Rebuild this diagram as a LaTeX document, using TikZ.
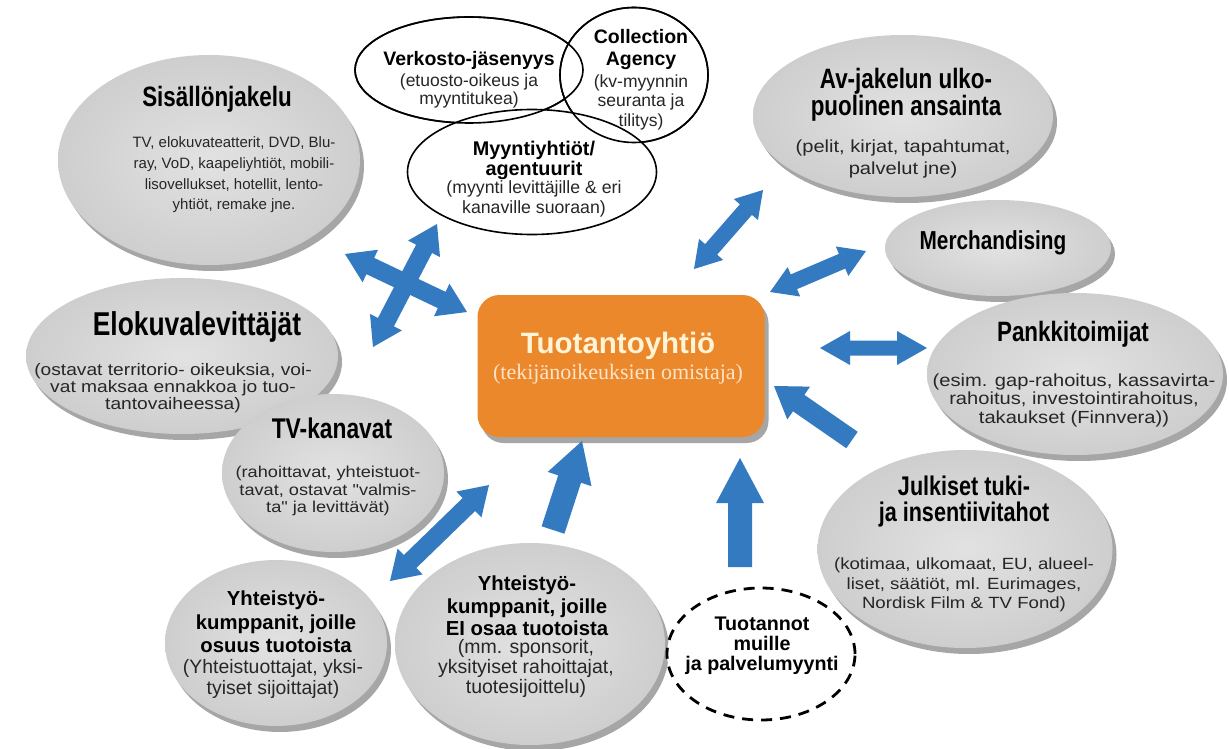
\documentclass[tikz,border=0pt]{standalone}
\usepackage{fontspec}
\setmainfont{Liberation Sans}
\newfontfamily\condfont[FakeStretch=0.8]{Liberation Sans}
\newfontfamily\widefont[FakeStretch=1.15]{Liberation Sans}
\newfontfamily\subserif{Liberation Serif}
\usetikzlibrary{shapes.geometric,shadows,calc}
\definecolor{boxorange}{RGB}{236,136,44}
\definecolor{boxtitle}{RGB}{255,244,214}
\definecolor{boxsub}{RGB}{252,228,200}
\definecolor{arrowblue}{RGB}{52,122,192}
\definecolor{ellin}{RGB}{226,226,226}
\definecolor{ellout}{RGB}{206,206,206}
\newcommand\fatdbl[5]{\fill[arrowblue] (#1)
 -- ($(#1)!#5!(#2)!#4!90:(#2)$) -- ($(#1)!#5!(#2)!#3!90:(#2)$)
 -- ($(#2)!#5!(#1)!#3!-90:(#1)$) -- ($(#2)!#5!(#1)!#4!-90:(#1)$)
 -- (#2)
 -- ($(#2)!#5!(#1)!#4!90:(#1)$) -- ($(#2)!#5!(#1)!#3!90:(#1)$)
 -- ($(#1)!#5!(#2)!#3!-90:(#2)$) -- ($(#1)!#5!(#2)!#4!-90:(#2)$) -- cycle;}
\newcommand\fatsgl[5]{\fill[arrowblue] ($(#1)!#3!90:(#2)$)
 -- ($(#2)!#5!(#1)!#3!-90:(#1)$) -- ($(#2)!#5!(#1)!#4!-90:(#1)$)
 -- (#2)
 -- ($(#2)!#5!(#1)!#4!90:(#1)$) -- ($(#2)!#5!(#1)!#3!90:(#1)$)
 -- ($(#1)!#3!-90:(#2)$) -- cycle;}
\begin{document}
\begin{tikzpicture}[x=1pt,y=-1pt,
  greyell/.style={ellipse, inner sep=0pt, inner color=ellin, outer color=ellout,
    drop shadow={shadow xshift=4pt, shadow yshift=-6pt, opacity=.35, fill=black}},
  whiteell/.style={ellipse, inner sep=0pt, fill=white, draw=black, line width=1.6pt},
  ringell/.style={ellipse, inner sep=0pt, draw=black, line width=1.6pt},
  dashell/.style={ellipse, inner sep=0pt, fill=white, draw=black, line width=2.8pt, dash pattern=on 11pt off 8pt},
  ttl/.style={align=center, inner sep=0pt, text=black},
  bod/.style={align=center, inner sep=0pt, text=black!85}]
\fill[white] (0,0) rectangle (1229,749);
\useasboundingbox (0,0) rectangle (1229,749);

% grey ellipses
\node[greyell, minimum width=302pt, minimum height=210pt] (sis) at (209,160) {};
\node[greyell, minimum width=312pt, minimum height=156pt] (elo) at (182,356) {};
\node[greyell, minimum width=222pt, minimum height=158pt] (tvk) at (333,473) {};
\node[greyell, minimum width=222pt, minimum height=166pt] (yh1) at (276,643) {};
\node[greyell, minimum width=270pt, minimum height=202pt] (yh2) at (530,644) {};
\node[greyell, minimum width=300pt, minimum height=162pt] (avj) at (903,116) {};
\node[greyell, minimum width=226pt, minimum height=96pt] (mer) at (998,248) {};
\node[greyell, minimum width=296pt, minimum height=162pt] (pan) at (1075,374) {};
\node[greyell, minimum width=295pt, minimum height=198pt] (jul) at (965,549) {};
\node[dashell, minimum width=188pt, minimum height=132pt] (tuo) at (761,654) {};

% white ellipses
\node[whiteell, minimum width=228pt, minimum height=106pt] (ver) at (469,70) {};
\node[whiteell, minimum width=148pt, minimum height=135pt] (col) at (634,75) {};
\node[whiteell, minimum width=249pt, minimum height=125pt] (myy) at (532,172) {};
\node[ringell, minimum width=228pt, minimum height=106pt] (verR) at (469,70) {};
\node[ringell, minimum width=148pt, minimum height=135pt] (colR) at (634,75) {};

% centre box
\node[rounded corners=22pt, fill=boxorange, minimum width=287pt, minimum height=142pt, inner sep=0pt,
  drop shadow={shadow xshift=4pt, shadow yshift=-6pt, opacity=.35, fill=black}] (prod) at (621,366) {};
\node[ttl, text=boxtitle, font=\bfseries\fontsize{29.5}{32}\selectfont] (prodT) at (618,346) {Tuotantoyhtiö};
\node[ttl, text=boxsub, font=\subserif\fontsize{22}{24}\selectfont] (prodS) at (618,374) {(tekijänoikeuksien omistaja)};

% texts
\node[ttl, font=\condfont\bfseries\fontsize{28}{30}\selectfont] (sisT) at (217,99) {Sisällönjakelu};
\node[bod, font=\fontsize{15}{20.7}\selectfont] (sisB) at (234,175) {TV, elokuvateatterit, DVD, Blu-\\ray, VoD, kaapeliyhtiöt, mobili-\\lisovellukset, hotellit, lento-\\yhtiöt, remake jne.};

\node[ttl, font=\condfont\bfseries\fontsize{33}{35}\selectfont] (eloT) at (197,327) {Elokuvalevittäjät};
\node[bod, font=\widefont\fontsize{16.7}{17}\selectfont] (eloB) at (173,388) {(ostavat territorio- oikeuksia, voi-\\vat maksaa ennakkoa jo tuo-\\tantovaiheessa)};

\node[ttl, font=\condfont\bfseries\fontsize{28.5}{30}\selectfont] (tvkT) at (332,428) {TV-kanavat};
\node[bod, font=\widefont\fontsize{15.8}{17.5}\selectfont] (tvkB) at (328,491) {(rahoittavat, yhteistuot-\\tavat, ostavat "valmis-\\ta" ja levittävät)};

\node[ttl, font=\bfseries\fontsize{20.3}{23.5}\selectfont] (yh1T) at (276,622) {Yhteistyö-\\kumppanit, joille\\osuus tuotoista};
\node[bod, font=\fontsize{19.4}{21}\selectfont] (yh1B) at (273,679) {(Yhteistuottajat, yksi-\\tyiset sijoittajat)};

\node[ttl, font=\bfseries\fontsize{20.3}{22.5}\selectfont] (yh2T) at (527,606) {Yhteistyö-\\kumppanit, joille\\EI osaa tuotoista};
\node[bod, font=\fontsize{19.5}{20}\selectfont] (yh2B) at (526,668) {(mm. sponsorit,\\yksityiset rahoittajat,\\tuotesijoittelu)};

\node[ttl, font=\bfseries\fontsize{19.7}{20}\selectfont] (tuoT) at (762,646) {Tuotannot\\muille\\ja palvelumyynti};

\node[ttl, font=\condfont\bfseries\fontsize{28}{24.5}\selectfont] (avjT) at (906,95) {Av-jakelun ulko-\\puolinen ansainta};
\node[bod, font=\widefont\fontsize{17.5}{22.5}\selectfont] (avjB) at (903,159) {(pelit, kirjat, tapahtumat,\\palvelut jne)};

\node[ttl, font=\condfont\bfseries\fontsize{26}{28}\selectfont] (merT) at (993,243) {Merchandising};

\node[ttl, font=\condfont\bfseries\fontsize{28}{30}\selectfont] (panT) at (1073,334) {Pankkitoimijat};
\node[bod, font=\widefont\fontsize{17.5}{18.5}\selectfont] (panB) at (1074,400) {(esim. gap-rahoitus, kassavirta-\\rahoitus, investointirahoitus,\\takaukset (Finnvera))};

\node[ttl, font=\condfont\bfseries\fontsize{27}{26}\selectfont] (julT) at (964,502) {Julkiset tuki-\\ja insentiivitahot};
\node[bod, font=\widefont\fontsize{16.2}{19.7}\selectfont] (julB) at (964,585) {(kotimaa, ulkomaat, EU, alueel-\\liset, säätiöt, ml. Eurimages,\\Nordisk Film \& TV Fond)};

\node[ttl, font=\bfseries\fontsize{19.5}{21}\selectfont] (verT) at (469,60) {Verkosto-jäsenyys};
\node[bod, font=\fontsize{17.5}{18.5}\selectfont] (verB) at (469,91) {(etuosto-oikeus ja\\myyntitukea)};

\node[ttl, font=\bfseries\fontsize{19.5}{22}\selectfont] (colT) at (641,50) {Collection\\Agency};
\node[bod, font=\fontsize{17.5}{19.5}\selectfont] (colB) at (641,102) {(kv-myynnin\\seuranta ja\\tilitys)};

\node[ttl, font=\bfseries\fontsize{19.8}{20}\selectfont] (myyT) at (534,160) {Myyntiyhtiöt/\\agentuurit};
\node[bod, font=\fontsize{17.7}{20}\selectfont] (myyB) at (534,199) {(myynti levittäjille \& eri\\kanaville suoraan)};

% arrow end points
\coordinate (x1a) at (345,254); \coordinate (x1b) at (467,312);
\coordinate (x2a) at (437,224); \coordinate (x2b) at (373,347);
\coordinate (ava) at (694,269); \coordinate (avb) at (763,190);
\coordinate (mea) at (770,292); \coordinate (meb) at (866,251);
\coordinate (paa) at (820,348); \coordinate (pab) at (927,348);
\coordinate (jua) at (852,440); \coordinate (jub) at (774,386);
\coordinate (yea) at (553,530); \coordinate (yeb) at (582,441);
\coordinate (tua) at (740,567); \coordinate (tub) at (740,458);
\coordinate (yoa) at (390,581); \coordinate (yob) at (489,485);

\fatdbl{x1a}{x1b}{9pt}{18pt}{28pt}
\fatdbl{x2a}{x2b}{9pt}{18pt}{28pt}
\fatdbl{ava}{avb}{8pt}{16pt}{26pt}
\fatdbl{mea}{meb}{8pt}{16pt}{26pt}
\fatdbl{paa}{pab}{7.5pt}{17pt}{30pt}
\fatsgl{jua}{jub}{10pt}{20pt}{30pt}
\fatsgl{yea}{yeb}{12pt}{23pt}{40pt}
\fatsgl{tua}{tub}{12pt}{24pt}{45pt}
\fatdbl{yoa}{yob}{9pt}{18pt}{28pt}
\end{tikzpicture}
\end{document}
